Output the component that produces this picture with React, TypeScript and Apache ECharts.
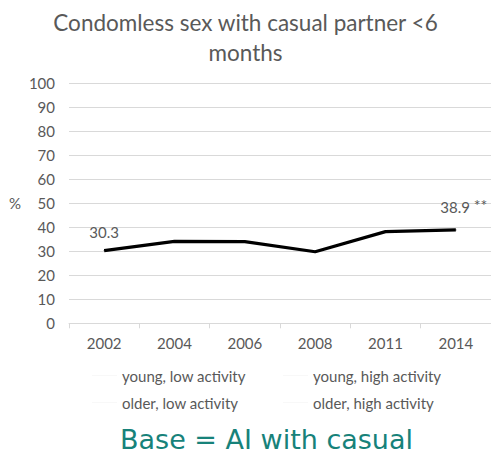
import React, { useEffect, useRef } from "react";
import * as echarts from "echarts";

const years = ["2002", "2004", "2006", "2008", "2011", "2014"];
const values = [30.3, 34.1, 34.0, 29.8, 38.2, 38.9];
const labelledIdx = [0, 5];
const legendLeft = ["young, low activity", "older, low activity"];
const legendRight = ["young, high activity", "older, high activity"];
const titleText = "Condomless sex with casual partner <6\nmonths";
const baseText = "Base = AI with casual";

const FONT = "Lato, 'Noto Sans', sans-serif";
const GREY = "#595959";

export default function App() {
  const ref = useRef<HTMLDivElement>(null);
  useEffect(() => {
    if (!ref.current) return;
    const chart = echarts.init(ref.current, null, { renderer: "svg" });
    const data = values.map((v, i) => {
      if (!labelledIdx.includes(i)) return v;
      const last = i === values.length - 1;
      return {
        value: v,
        label: {
          show: true,
          position: "top",
          distance: 11,
          offset: last ? [8, 0] : [0, 0],
          formatter: last ? "{a|" + v.toFixed(1) + "} {b|**}" : v.toFixed(1),
          color: GREY,
          fontSize: 15,
          fontFamily: FONT,
          rich: {
            a: { fontSize: 15, fontFamily: FONT, color: GREY },
            b: { fontSize: 16, fontFamily: FONT, color: GREY, padding: [0, 0, 6, 0] },
          },
        },
      };
    });
    const ghost = [...legendLeft, ...legendRight].map((n) => ({
      name: n,
      type: "line",
      data: [],
      color: "#f8f8f8",
      lineStyle: { color: "#f8f8f8" },
      itemStyle: { color: "#f8f8f8" },
    }));
    const legendCommon = {
      orient: "vertical",
      top: 363,
      itemGap: 12,
      itemWidth: 25,
      icon: "rect",
      itemHeight: 1,
      textStyle: { color: GREY, fontSize: 15, fontFamily: FONT },
    };
    chart.setOption({
      animation: false,
      textStyle: { fontFamily: FONT },
      title: {
        text: titleText,
        left: "center",
        top: 2,
        textStyle: {
          fontFamily: FONT,
          fontSize: 22.5,
          fontWeight: "normal",
          color: GREY,
          lineHeight: 30,
        },
      },
      legend: [
        { ...legendCommon, data: legendLeft, left: 87 },
        { ...legendCommon, data: legendRight, left: 278 },
      ],
      grid: { left: 69, right: 0, top: 83.3, bottom: 134.7, containLabel: false },
      xAxis: {
        type: "category",
        data: years,
        boundaryGap: true,
        axisLine: { lineStyle: { color: "#d9d9d9", width: 1 } },
        axisTick: { show: true, length: 5, lineStyle: { color: "#d9d9d9" } },
        axisLabel: { color: GREY, fontSize: 15, fontFamily: FONT, margin: 12 },
      },
      yAxis: {
        type: "value",
        min: 0,
        max: 100,
        interval: 10,
        name: "%",
        nameLocation: "middle",
        nameRotate: 0,
        nameGap: 48,
        nameTextStyle: { color: GREY, fontSize: 15, fontFamily: FONT, padding: [40, 0, 0, 0] },
        axisLine: { show: false },
        axisTick: { show: false },
        axisLabel: { color: GREY, fontSize: 15, fontFamily: FONT, margin: 14 },
        splitLine: { lineStyle: { color: "#d9d9d9", width: 1 } },
      },
      series: [
        {
          type: "line",
          data,
          symbol: "circle",
          symbolSize: 1,
          showSymbol: true,
          lineStyle: { color: "#000", width: 3.2 },
          itemStyle: { color: "#000" },
          z: 5,
        },
        ...ghost,
      ],
      graphic: [
        {
          type: "text",
          left: 120,
          top: 426,
          style: {
            text: baseText,
            fill: "#17827a",
            fontSize: 27,
            fontFamily: "'DejaVu Sans', sans-serif",
          },
        },
      ],
    });
    return () => chart.dispose();
  }, []);
  return (
    <div
      ref={ref}
      style={{ position: "absolute", left: 0, top: 0, width: 491, height: 458 }}
    />
  );
}
